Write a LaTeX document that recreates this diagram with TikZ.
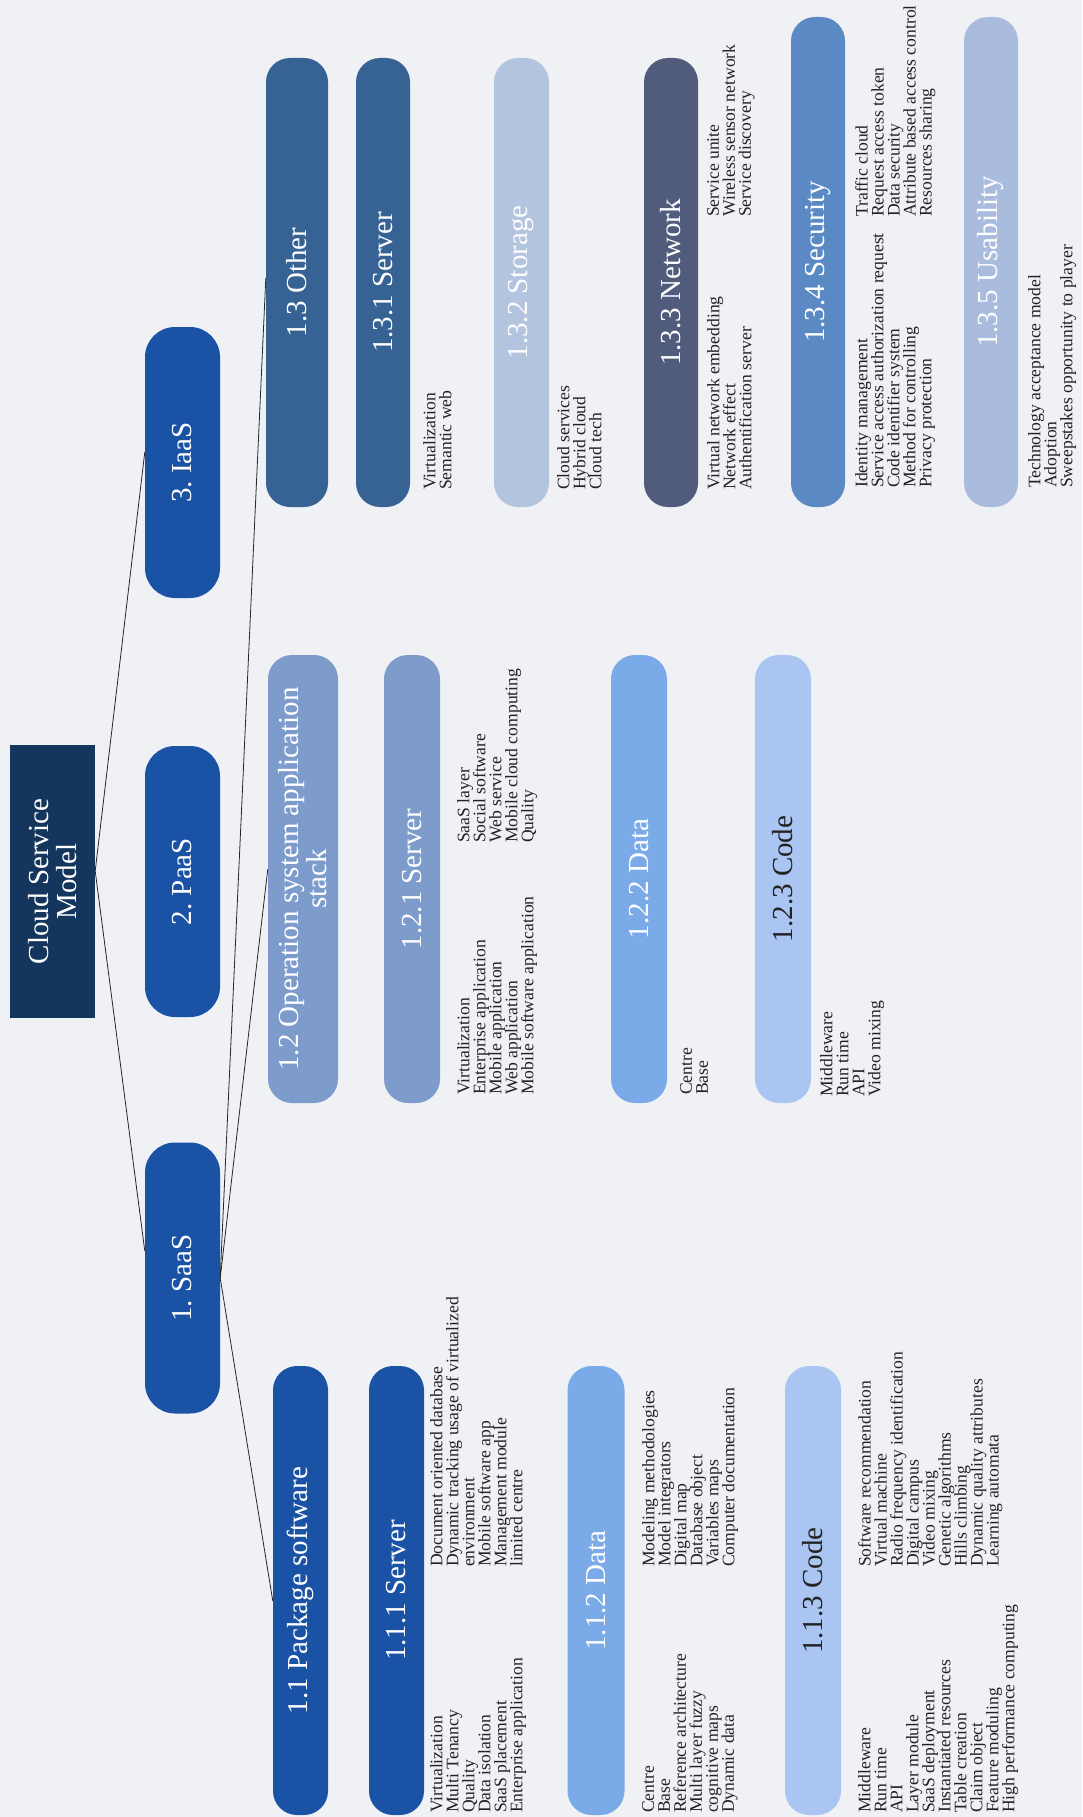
\documentclass[tikz,border=0pt]{standalone}
\usepackage{fontspec}
\setmainfont{Liberation Serif}
\usetikzlibrary{calc}
\definecolor{bg}{HTML}{EFF1F5}
\definecolor{cRoot}{HTML}{14365C}
\definecolor{cBlue}{HTML}{1A53A6}
\definecolor{cData}{HTML}{7AAAE8}
\definecolor{cCode}{HTML}{AAC5F1}
\definecolor{cOS}{HTML}{7D9BCB}
\definecolor{cOther}{HTML}{366294}
\definecolor{cStor}{HTML}{B3C4DF}
\definecolor{cNet}{HTML}{515B7B}
\definecolor{cSec}{HTML}{5A89C4}
\definecolor{cUse}{HTML}{A9BCDE}
\definecolor{ink}{HTML}{222222}
\newcommand\titlef{\fontsize{29}{28}\selectfont\lineskiplimit=-30pt\frenchspacing}
\newcommand\listf{\fontsize{17.6}{16}\selectfont\lineskiplimit=-30pt\frenchspacing}
\begin{document}
\begin{tikzpicture}[x=1pt,y=-1pt,
  rootbox/.style={rotate=90, fill=cRoot, inner sep=0pt, text=white, align=center, font=\titlef},
  lvlone/.style={rotate=90, rounded corners=30pt, minimum width=271pt, minimum height=75pt, inner sep=0pt, text=white, align=center, font=\titlef},
  catbox/.style={rotate=90, rounded corners=24pt, inner sep=0pt, text=white, align=center, font=\titlef},
  lst/.style={rotate=90, anchor=north west, inner sep=0pt, align=left, text=ink, font=\listf},
  conn/.style={draw=black!85, line width=0.8pt}
]
\useasboundingbox (0,0) rectangle (1082,1817);
\fill[bg] (0,0) rectangle (1082,1817);

% root and level 1
\node[rootbox, minimum width=273pt, minimum height=85pt] (root) at (52.5,881.5) {Cloud Service\\Model};
\node[lvlone, fill=cBlue] (saas) at (182.5,1278) {1. SaaS};
\node[lvlone, fill=cBlue] (paas) at (182.5,881.5) {2. PaaS};
\node[lvlone, fill=cBlue] (iaas) at (182.5,462.5) {3. IaaS};

% row 1.1
\node[catbox, fill=cBlue, minimum width=449pt, minimum height=55pt] (p11) at (300.5,1590.5) {1.1 Package software};
\node[catbox, fill=cBlue, minimum width=449pt, minimum height=55pt] (p111) at (396.5,1590.5) {1.1.1 Server};
\node[catbox, fill=cData, minimum width=449pt, minimum height=57pt] (p112) at (596,1590.5) {1.1.2 Data};
\node[catbox, fill=cCode, text=ink, minimum width=449pt, minimum height=56pt] (p113) at (813,1590.5) {1.1.3 Code};

% row 1.2
\node[catbox, fill=cOS, minimum width=448pt, minimum height=70pt] (p12) at (303,879) {1.2 Operation system application\\stack};
\node[catbox, fill=cOS, minimum width=448pt, minimum height=56pt] (p121) at (412,879) {1.2.1 Server};
\node[catbox, fill=cData, minimum width=448pt, minimum height=56pt] (p122) at (639,879) {1.2.2 Data};
\node[catbox, fill=cCode, text=ink, minimum width=448pt, minimum height=56pt] (p123) at (783,879) {1.2.3 Code};

% row 1.3
\node[catbox, fill=cOther, minimum width=449pt, minimum height=62pt] (p13) at (297,282.5) {1.3 Other};
\node[catbox, fill=cOther, minimum width=449pt, minimum height=54pt] (p131) at (383,282.5) {1.3.1 Server};
\node[catbox, fill=cStor, minimum width=449pt, minimum height=55pt] (p132) at (521.5,282.5) {1.3.2 Storage};
\node[catbox, fill=cNet, minimum width=449pt, minimum height=54pt] (p133) at (671,282.5) {1.3.3 Network};
\node[catbox, fill=cSec, minimum width=490pt, minimum height=54pt] (p134) at (818,262) {1.3.4 Security};
\node[catbox, fill=cUse, minimum width=490pt, minimum height=54pt] (p135) at (991,262) {1.3.5 Usability};

% connectors
\draw[conn] ($(root.south)+(0,-10.5)$) -- ($(iaas.north)+(0,-10.5)$);
\draw[conn] ($(root.south)+(0,-10.5)$) -- ($(saas.north)+(0,-27)$);
\draw[conn] (saas.south) -- ($(p11.north)+(0,10.5)$);
\draw[conn] (saas.south) -- ($(p12.north)+(0,-10)$);
\draw[conn] (saas.south) -- ($(p13.north)+(0,-4.5)$);

% lists row 1.1
\node[lst] (l111a) at (430,1813) {Virtualization\\Multi Tenancy\\Quality\\Data isolation\\SaaS placement\\Enterprise application};
\node[lst] (l111b) at (430,1567) {Document oriented database\\Dynamic tracking usage of virtualized\\environment\\Mobile software app\\Management module\\limited centre};
\node[lst] (l112a) at (642,1813) {Centre\\Base\\Reference architecture\\Multi layer fuzzy\\cognitive maps\\Dynamic data};
\node[lst] (l112b) at (642,1567) {Modeling methodologies\\Model integrators\\Digital map\\Database object\\Variables maps\\Computer documentation};
\node[lst] (l113a) at (858,1813) {Middleware\\Run time\\API\\Layer module\\SaaS deployment\\Instantiated resources\\Table creation\\Claim object\\Feature moduling\\High performance computing};
\node[lst] (l113b) at (858,1567) {Software recommendation\\Virtual machine\\Radio frequency identification\\Digital campus\\Video mixing\\Genetic algorithms\\Hills climbing\\Dynamic quality attributes\\Learning automata};

% lists row 1.2
\node[lst] (l121a) at (457,1095) {Virtualization\\Enterprise application\\Mobile application\\Web application\\Mobile software application};
\node[lst] (l121b) at (457,843) {SaaS layer\\Social software\\Web service\\Mobile cloud computing\\Quality};
\node[lst] (l122a) at (680,1095) {Centre\\Base};
\node[lst] (l123a) at (820,1097) {Middleware\\Run time\\API\\Video mixing};

% lists row 1.3
\node[lst] (l131a) at (423,490) {Virtualization\\Semantic web};
\node[lst] (l132a) at (557,490) {Cloud services\\Hybrid cloud\\Cloud tech};
\node[lst] (l133a) at (707,490) {Virtual network embedding\\Network effect\\Authentification server};
\node[lst] (l133b) at (707,217) {Service unite\\Wireless sensor network\\Service discovery};
\node[lst] (l134a) at (855,488) {Identity management\\Service access authorization request\\Code identifier system\\Method for controlling\\Privacy protection};
\node[lst] (l134b) at (855,217) {Traffic cloud\\Request access token\\Data security\\Attribute based access control\\Resources sharing};
\node[lst] (l135a) at (1028,488) {Technology acceptance model\\Adoption\\Sweepstakes opportunity to player};
\end{tikzpicture}
\end{document}
